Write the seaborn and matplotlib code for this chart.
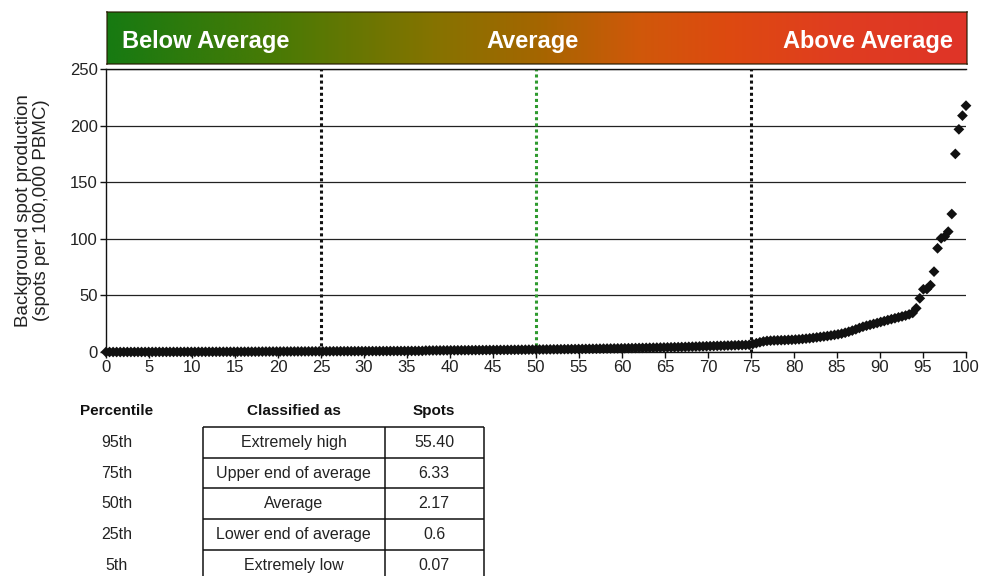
import numpy as np
import pandas as pd
import matplotlib
matplotlib.use("Agg")
import matplotlib.pyplot as plt
from matplotlib.colors import LinearSegmentedColormap
import seaborn as sns

# sorted background spot counts (lowest -> highest)
spots_low = [0, 0, 0, 0, 0, 0.01, 0.02, 0.03, 0.03, 0.04, 0.05, 0.06, 0.07,
             0.07, 0.08, 0.08, 0.09, 0.1, 0.1, 0.11, 0.12, 0.12, 0.13,
             0.14, 0.15, 0.15, 0.16, 0.17, 0.17, 0.18, 0.19, 0.2, 0.2,
             0.21, 0.22, 0.23, 0.23, 0.24, 0.25, 0.26, 0.27, 0.28, 0.29, 0.3,
             0.38, 0.4, 0.41, 0.42, 0.43, 0.44, 0.45, 0.46, 0.48, 0.49,
             0.5, 0.52, 0.53, 0.55, 0.56, 0.58, 0.6,
             0.6, 0.62, 0.63, 0.64, 0.65, 0.67, 0.68, 0.69, 0.7, 0.71,
             0.73, 0.74, 0.75, 0.77, 0.78, 0.79, 0.8, 0.82, 0.83, 0.85,
             0.86, 0.87, 0.89, 0.9, 0.92, 0.94, 0.96, 0.98, 1.0]
spots_mid = [1.3, 1.32, 1.35, 1.37, 1.4, 1.42, 1.45, 1.47, 1.5, 1.52,
             1.55, 1.57, 1.6, 1.62, 1.65, 1.67, 1.7, 1.72, 1.75, 1.78,
             1.8, 1.83, 1.86, 1.89, 1.92, 1.95, 1.98, 2.01, 2.05, 2.09, 2.13, 2.17,
             2.2, 2.24, 2.28, 2.32, 2.36, 2.4, 2.44, 2.48, 2.52, 2.56,
             2.6, 2.65, 2.7, 2.75, 2.8, 2.85, 2.9, 2.95, 3.0, 3.05,
             3.1, 3.15, 3.2, 3.26, 3.32, 3.38, 3.44, 3.5, 3.56, 3.62,
             3.68, 3.75, 3.82, 3.89, 3.96, 4.03, 4.1, 4.17, 4.24, 4.31,
             4.4, 4.5, 4.6, 4.7, 4.8, 4.9, 5.0, 5.1, 5.2, 5.3,
             5.4, 5.5, 5.6, 5.7, 5.8, 5.9, 6.0, 6.1, 6.2, 6.33]
spots_high = [7.0, 7.8, 8.6, 9.3, 9.8,
              10.0, 10.2, 10.3, 10.4, 10.5, 10.7, 10.8,
              11.0, 11.2, 11.5, 11.8, 12.1, 12.5, 12.9, 13.3, 13.7, 14.1, 14.6, 15.1, 15.6,
              16.2, 17.0, 17.9, 18.9, 20.0, 21.2, 22.3,
              23.2, 24.0, 24.8, 25.6, 26.5,
              27.3, 28.2, 29.0, 29.8, 30.6, 31.4, 32.2, 33.2, 34.5,
              38.6, 47.4, 55.4, 55.6, 59.0, 71.0, 91.6, 100.4, 101.9, 106.3,
              121.9, 175.0, 196.7, 208.8, 217.6]

cut_pcts = [25, 50, 75]
cut_colors = ['#111111', '#2e9a2e', '#111111']

banner_labels = ['Below Average', 'Average', 'Above Average']

table_headers = ['Percentile', 'Classified as', 'Spots']
table_pct = ['95th', '75th', '50th', '25th', '5th']
table_class = ['Extremely high', 'Upper end of average', 'Average',
               'Lower end of average', 'Extremely low']
table_spots = ['55.40', '6.33', '2.17', '0.6', '0.07']

spots = spots_low + spots_mid + spots_high
df = pd.DataFrame({'spots': spots})
df['pct'] = np.linspace(0, 100, len(df))  # percentile rank of each sorted value

sns.set_theme(style='white')
plt.rcParams['font.family'] = ['Liberation Sans', 'DejaVu Sans']

W, H = 992, 576
fig = plt.figure(figsize=(W / 100, H / 100), dpi=100)

# --- main scatter ---
ax = fig.add_axes([106 / W, 224 / H, 860 / W, 283 / H])
ax.set_axisbelow(True)
for p, c in zip(cut_pcts, cut_colors):
    ax.axvline(p, color=c, lw=2.2, ls=(0, (1, 1)), zorder=2)
sns.scatterplot(data=df, x='pct', y='spots', marker='D', s=30, color='#111111',
                edgecolor='none', ax=ax, zorder=3, clip_on=False, legend=False)
ax.set_xlim(0, 100)
ax.set_ylim(0, 250)
ax.set_xticks(range(0, 101, 5))
ax.set_yticks(range(0, 251, 50))
ax.yaxis.grid(True, color='#222222', lw=0.9)
ax.xaxis.grid(False)
ax.spines['right'].set_visible(False)
for s in ['left', 'bottom', 'top']:
    ax.spines[s].set_color('#111111')
    ax.spines[s].set_linewidth(1.0)
ax.tick_params(axis='both', direction='out', length=4, width=1, color='#111111',
               labelsize=12, pad=2, left=True, bottom=True, labelcolor='#222222')
ax.set_xlabel('')
ax.set_ylabel('Background spot production\n(spots per 100,000 PBMC)',
              fontsize=13.5, labelpad=14, linespacing=1.1, color='#222222')

# --- gradient banner ---
bax = fig.add_axes([107 / W, (H - 64) / H, 860 / W, 52 / H])
band = LinearSegmentedColormap.from_list('band', [
    (0.0, '#177a12'), (0.2, '#4a7a05'), (0.38, '#857300'), (0.5, '#a46600'),
    (0.62, '#d0580a'), (0.72, '#dd4a10'), (0.85, '#e03d20'), (1.0, '#df3428')])
bax.imshow(np.linspace(0, 1, 512)[None, :], aspect='auto', cmap=band,
           extent=[0, 1, 0, 1])
bax.set_xticks([])
bax.set_yticks([])
for s in bax.spines.values():
    s.set_color((0.15, 0.1, 0.0, 0.7))
    s.set_linewidth(1.2)
bkw = dict(color='white', fontsize=17, fontweight='bold', va='center',
           transform=bax.transAxes)
bax.text(0.0174, 0.43, banner_labels[0], ha='left', **bkw)
bax.text(0.495, 0.43, banner_labels[1], ha='center', **bkw)
bax.text(0.984, 0.43, banner_labels[2], ha='right', **bkw)

# --- classification table (drawn in pixel space) ---
tax = fig.add_axes([0, 0, 1, 1], zorder=-1)
tax.set_xlim(0, W)
tax.set_ylim(H, 0)
tax.axis('off')
col_x = [117, 293.5, 434]
box_l, box_m, box_r = 203, 384.5, 483.5
top, row_h = 427, 30.7
for x, h in zip(col_x, table_headers):
    tax.text(x, 411, h, ha='center', va='center', fontsize=11, fontweight='bold',
             color='#111111')
n = len(table_pct)
bottom = top + n * row_h
tax.vlines([box_l, box_m, box_r], top, bottom, color='#111111', lw=1.1)
tax.hlines([top + i * row_h for i in range(n + 1)], box_l, box_r,
           color='#111111', lw=1.1)
for i, (p, c, v) in enumerate(zip(table_pct, table_class, table_spots)):
    y = top + (i + 0.5) * row_h
    tax.text(col_x[0], y, p, ha='center', va='center', fontsize=11.5, color='#222222')
    tax.text(col_x[1], y, c, ha='center', va='center', fontsize=11.5, color='#222222')
    tax.text(col_x[2], y, v, ha='center', va='center', fontsize=11.5, color='#222222')

fig.savefig('out.png', dpi=100)
